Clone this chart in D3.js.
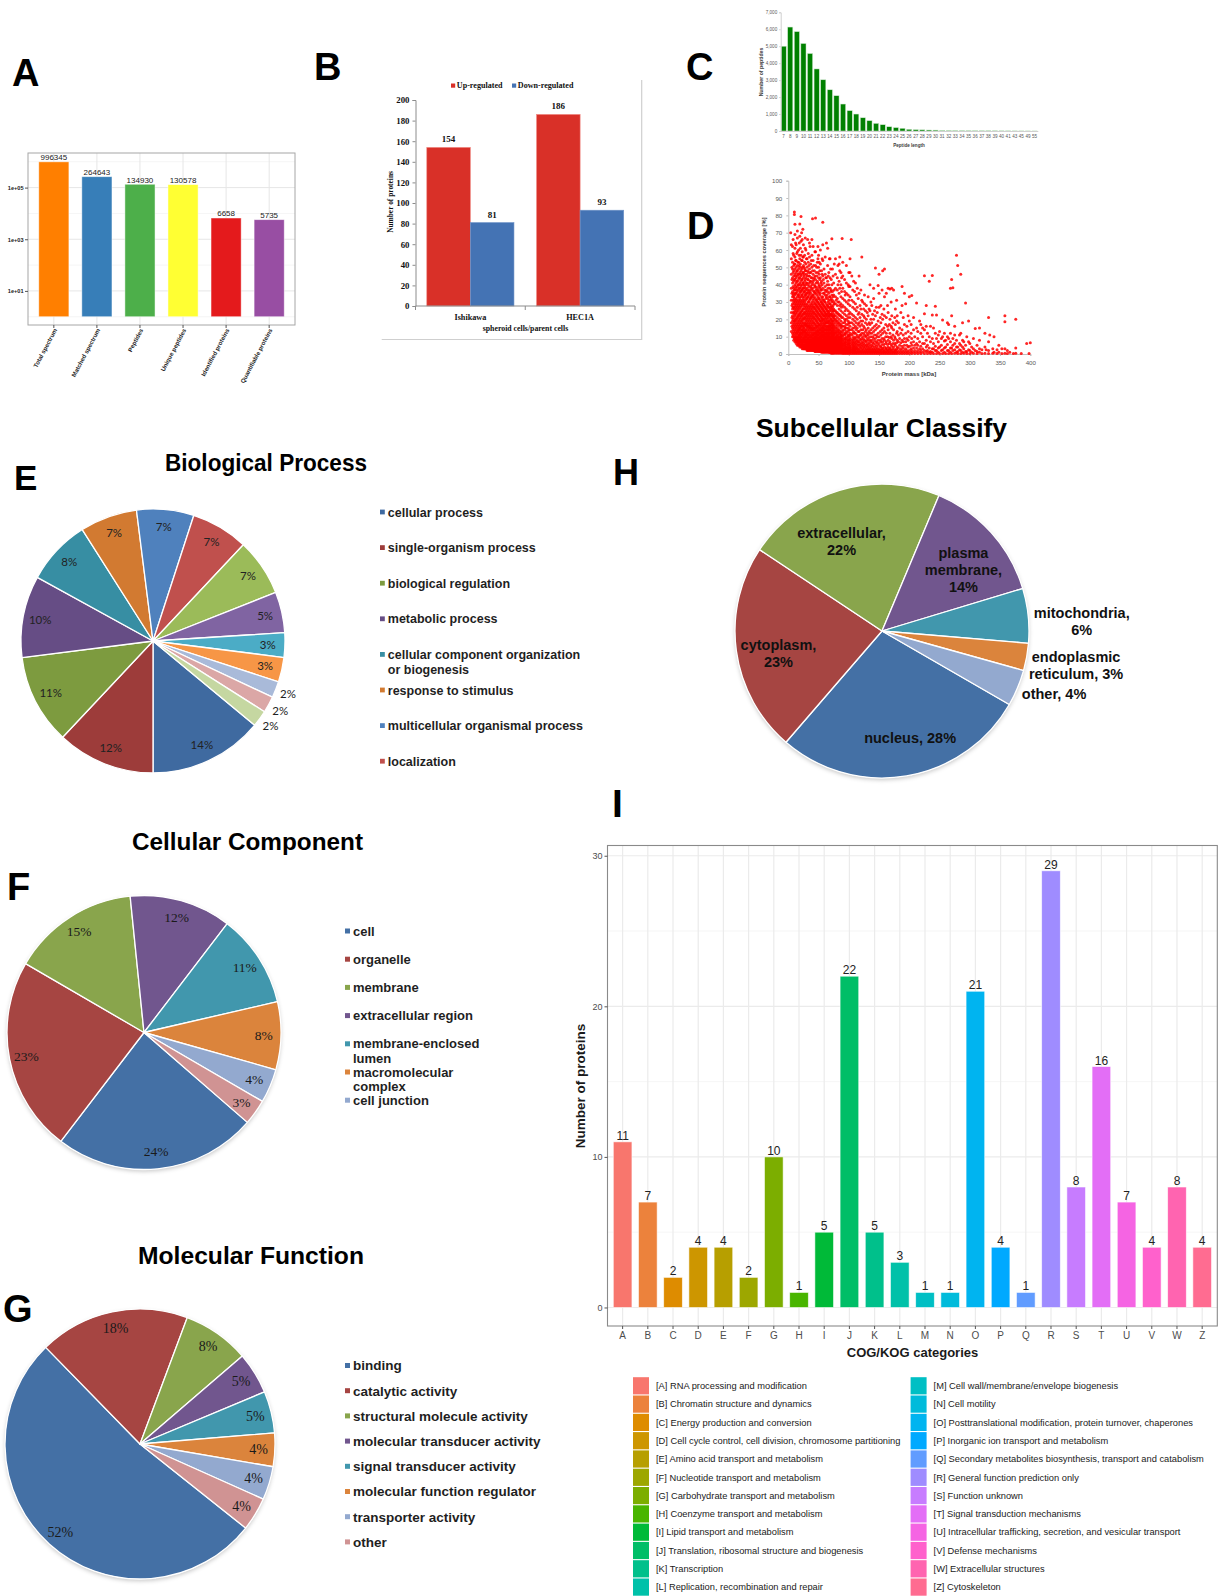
<!DOCTYPE html>
<html>
<head>
<meta charset="utf-8">
<title>Proteome figure</title>
<script src="https://cdn.jsdelivr.net/npm/d3@7"></script>
<style>
html,body{margin:0;padding:0;background:#fff;}
svg{display:block;}
</style>
</head>
<body>
<svg id="fig" width="1218" height="1596" viewBox="0 0 1218 1596"></svg>
<script>
// ================= DATA =================
// A: MS summary (log scale)
const spectrumCategories = ["Total spectrum","Matched spectrum","Peptides","Unique peptides","Identified proteins","Quantifiable proteins"];
const spectrumValues = [996345,264643,134930,130578,6658,5735];
const spectrumTicks = [10,1000,100000];
const spectrumTickLabels = ["1e+01","1e+03","1e+05"];

// B: regulated proteins
const regCells = ["Ishikawa","HEC1A"];
const regSeries = ["Up-regulated","Down-regulated"];
const upValues = [154,186];
const downValues = [81,93];
const regTicks = [0,20,40,60,80,100,120,140,160,180,200];

// C: peptide length distribution
const pepLengths = ["7","8","9","10","11","12","13","14","15","16","17","18","19","20","21","22","23","24","25","26","27","28","29","30","31","32","33","34","35","36","37","38","39","40","41","43","45","49","55"];
const pepCounts = [5000,6130,5860,5160,4570,3660,3020,2430,2080,1590,1200,1000,780,610,450,370,250,200,160,100,80,70,60,55,35,30,27,24,21,18,16,14,12,10,9,7,6,5,4];
const pepTicks = [0,1000,2000,3000,4000,5000,6000,7000];

// D: protein mass [kDa] : sequence coverage [%] values
const massTicks = [0,50,100,150,200,250,300,350,400];
const coverageTicks = [0,10,20,30,40,50,60,70,80,90,100];
const proteinMassCoverage = `
4:70
5:13,18,24,31,38,46,55,63
6:16,21,28,35,43,50
7:10,12,15,19,22,26,29,33,36,41,44,49,53,62
8:11,14,17,20,24,27,31,34,39,47,58,66
9:8,10,13,16,18,21,24,27,30,33,35,38,42,45,48,51,57
10:9,12,15,19,23,26,29,32,37,43,52,80.5,82
11:7,9,11,14,17,19,22,25,28,31,34,37,40,43,46,49,52,56,61,69,74.8
12:8,10,13,16,20,24,27,30,35,39,45,54,64
13:6,8,10,12,15,18,20,23,26,29,32,35,38,41,44,47,50,54,63
14:7,9,12,14,17,21,25,28,31,37,42,48,58
15:5,7,9,11,13,16,19,21,24,27,30,33,36,39,42,45,48,51,59,67,71
16:6,8,10,13,15,18,22,26,29,34,40,46,53
17:5,6,8,10,12,14,17,20,22,25,28,31,34,37,40,43,46,49,53,60
18:5,7,9,11,14,16,19,23,27,30,33,38,44,51,57,64
19:4,6,8,9,11,13,15,18,21,23,26,29,32,35,38,41,44,47,50,55,68,75
20:5,7,10,12,15,17,20,24,28,31,36,40,46,52,61
21:4,5,7,9,10,12,14,16,19,22,24,27,30,33,36,39,42,45,48,57,65,79.4
22:4,6,8,11,13,16,18,21,25,29,34,37,43,49,54,70
23:3,5,6,8,10,12,14,17,19,22,25,28,31,34,37,40,43,46,50,54,59,66
24:4,5,7,9,12,14,16,20,23,26,30,33,38,41,47,56,72
25:3,4,6,7,9,11,13,15,18,20,23,26,29,32,35,38,41,44,47,51,56,63
26:3,5,7,8,10,13,15,17,21,24,28,31,36,40,45,50
27:3,4,5,7,9,11,13,16,18,21,24,27,30,33,36,39,42,46,49,53,57
28:3,4,6,8,10,12,14,17,20,23,26,29,34,38,43,48,61,67
29:3,4,5,7,8,10,12,14,17,19,22,25,28,31,34,37,40,44,48,52,60
30:3,4,6,7,9,11,13,16,18,21,24,27,32,35,41,46,55
31:2,3,5,6,8,10,12,15,17,20,23,26,29,32,35,38,41,45,50,55
32:2.5,4,5,7,9,11,14,16,19,22,25,28,33,37,43,48,66
33:2,3,4,6,7,9,11,13,16,18,21,24,27,30,33,36,40,43,47,53,58
34:2.5,3.5,5,6.5,8,10,12,15,17,20,23,26,30,35,39,45,51
35:2,3,4,5,7,9,11,14,16,19,22,25,28,31,34,37,41,45,49,56,64
36:2.5,3.5,4.5,6,8,10,13,15,18,21,24,27,32,36,42,47,62
37:2,3,4,5,7,8,10,12,15,17,20,23,26,29,32,35,39,42,47,52
38:2.5,3.5,5,6,7.5,9,11,14,16,19,22,25,28,33,38,44,54
39:2,3,4,5,6,8,10,13,15,18,21,24,27,30,33,37,40,44,50,57,66
40:2.5,3.5,4.5,5.5,7,9,11,12,14,17,20,23,26,29,34,41,48,78
41:2,3,4,5,6,8,9,11,14,16,19,22,25,28,31,34,38,42,46,54,62
42:2,3,4.5,5.5,7,8.5,10,12,15,18,21,24,27,32,36,43,51
43:2,2.5,3.5,5,6,7,9,11,13,15,18,21,24,27,30,33,36,40,44,48
44:1.5,3,4,5.5,6.5,8,10,12,14,17,20,23,26,29,35,39,45,59
45:1.5,2.5,3.5,4.5,6,7,9,10,12,15,17,20,23,26,29,32,35,39,43,51,59,78.5
46:2,3,4,5,6.5,8,9.5,11,13,16,19,22,25,28,31,37,41,47
47:1.5,2.5,3.5,4.5,5.5,7,8,10,12,14,16,19,22,25,28,31,34,38,45,50
48:2,3,4,5,6,7.5,9,11,13,15,18,21,24,27,30,36,42,53
49:1.5,2.5,3,4,5,6,8,9,11,13,16,18,21,24,27,30,33,37,41,47,55,62
50:2,3,3.5,4.5,5.5,7,8.5,10,12,14,17,20,23,26,29,32,35,39,44,50,57
51:1.5,2,3,4,5,6,7,9,11,13,15,17,20,23,26,29,32,36,40,46,53
52:1.5,2.5,3.5,4.5,5.5,6.5,8,10,12,14,16,19,22,25,28,34,38,43,48
53:1.5,2,3,4,5,6,7,9,10,12,14,17,19,22,25,28,31,35,39,44,52,60
54:1.5,2.5,3.5,4.5,5.5,7,8.5,10,11,13,15,18,21,24,27,30,37,41
55:1,2,3,4,5,6,7,8,10,12,14,16,19,21,24,27,30,33,37,42,48
56:1.5,2.5,3.5,4.5,6,7.5,9,11,13,15,17,20,23,26,29,32,40,46,55
57:1,2,3,4,4.5,5.5,7,8,10,11,13,15,18,20,23,26,29,33,38,45,54,63,76
58:1.5,2.5,3.5,5,6,7,8.5,10,12,14,16,19,22,25,28,31,35,43
59:1,2,2.5,3.5,4.5,5.5,6.5,8,9,11,13,15,17,20,22,25,28,31,35,41,49
60:1.5,2,3,4,5,6,7.5,9,10,12,14,16,18,21,24,27,30,37
61:1,2,2.5,3.5,4.5,5.5,6.5,8,9,11,12,14,17,19,22,24,27,30,34,39,46,56
62:1.5,2,3,4,5,6,7,8.5,10,11.5,13,15,18,20,23,26,32,36,44
63:1,1.5,2.5,3.5,4,5,6,7,9,10,12,14,16,18,21,23,26,29,33,37,44,64
64:1.5,2,3,4.5,5.5,6.5,7.5,9,10.5,12,14,16,19,22,25,28,34,40
65:1,1.5,2.5,3,4,5,6,7,8,10,11,13,15,18,20,23,25,28,32,36,42,51,61
66:1.5,2,3,4,5,6,7,8.5,10,12,14,16,18,21,24,27,30,38,45
67:1,1.5,2,3,4,5,6,7,8,9,11,13,15,17,19,22,24,27,31,35,40,47
68:1,2,3,3.5,4.5,5.5,7,8,9.5,11,12,14,16,19,22,25,29,33,55
69:1,1.5,2,3,4,5,5.5,6.5,8,9,10,12,14,16,18,21,23,26,29,33,38,44,55
70:1,2,2.5,3.5,4.5,5.5,6.5,7.5,9,10,12,13,15,17,20,23,27,31,36,49
71:0.5,1.5,2,3,3.5,4.5,5.5,6.5,7.5,9,10,12,14,16,18,20,23,25,28,32,37,43
72:1,1.5,2.5,3,4,5,6,7,8.5,10,11,13,15,17,19,22,26,30,34,40,66.5
73:0.5,1,2,2.5,3.5,4.5,5,6,7,8,10,11,13,15,17,19,22,24,27,31,36,49
74:1,1.5,2,3,4,5,6,7,8,9,10.5,12,14,16,18,21,25,28,33,45
75:0.5,1,2,2.5,3.5,4,5,6,7,8,9,11,12,14,16,19,21,23,26,30,34,41
76:1,1.5,2,3,4,4.5,5.5,6.5,7.5,9,10,11.5,13,15,17,20,22,25,29,37,52
78:0.5,1,1.5,2.5,3,4,5,6,7,8,9,10,12,13,15,18,20,22,25,29,33,38,46,55
79:1,2,3,3.5,4.5,5.5,6.5,8,9,10.5,12,14,16,19,24,31
81:0.5,1,1.5,2,3,3.5,4.5,5.5,6.5,7.5,9,10,11,13,15,17,19,21,24,28,32,37,44
82:1,1.5,2.5,3,4,5,6,7,8,9.5,11,12.5,14,18,23,30,40,51
84:0.5,1,1.5,2,2.5,3.5,4,5,6,7,8,9,10,12,14,16,18,20,23,26,30,35,42,52
85:1,2,3,4,4.5,5.5,6.5,7.5,9,10,11.5,13,17,22,28,38,48,56
87:0.5,1,1.5,2,2.5,3,4,5,6,7,7.5,9,10,11,13,15,17,19,22,25,29,33,40,47
88:1,2,3,3.5,4.5,5.5,6.5,8,9,10.5,12,16,21,27,36,44
89:66.7
90:0.3,0.8,1.5,2,2.5,3,4,5,5.5,6.5,7.5,8.5,10,11,13,14,16,18,21,24,28,32,38,45,53
93:0.3,0.8,1.3,2,2.5,3,3.5,4.5,5.5,6,7,8,9,11,12,14,16,18,20,23,27,31,36,43
94:1,2.5,4.5,6.5,9,11.5,15,19,25,34
96:0.3,0.8,1.3,1.8,2.5,3,3.5,4,5,6,7,8,9,10,12,13,15,17,20,22,26,30,35,41,51
99:0.3,0.8,1.3,1.8,2.3,3,3.5,4,5,5.5,6.5,7.5,8.5,10,11,13,15,17,19,21,25,29,34,40
100:1.5,3.5,6,8,10.5,14,18,23,31,39,47
102:0.3,0.8,1.3,1.8,2.3,2.8,3.5,4,4.5,5.5,6.5,7.5,8.5,9.5,11,12,14,16,18,21,24,28,33,39,47,55
104:66
105:0.3,1.3,2.3,3.3,5,6.5,8,11,14,18,23,31,45
106.5:0.8,1.8,2.8,4,5.5,7,9,12,15,20,27,37
108:0.3,1.3,2.3,3.3,4.5,6,8,10,13,17,22,30,42
109.5:0.8,1.8,2.8,4,5.5,7,9,12,15,19,26,36
111:0.3,1.5,3,4.5,6.5,9,12,16,21,29,41
112.5:0.8,2,3.5,5.5,7.5,10,14,18,25,34
114:0.3,1.5,3,4,6,8,11,15,20,27,38
115.5:1,2.5,5,7,9.5,13,17,23,32
117:0.3,1.5,3,5,7,10,13,18,24,35,45
118.5:1,2,4,6,8.5,11,16,21,28
120:0.3,1.5,3.5,5.5,8,11,14,19,26,37
121.5:1,2.5,4.5,6.5,9,12,17,23,31,56
123:0.3,1.5,3,5,7,10,14,19,30
124.5:1,2,4,6,8.5,12,16,22,26
126:0.3,1.5,3.5,5.5,8,11,15,21,29,34
127.5:1,2.5,4.5,7,10,13,18,25
129:0.3,1.5,3,5,7.5,10.5,14,20,28
130.5:1,2,4,6,9,12,17,24
132:0.3,1.5,3,5,8,11,15,22,33
133.5:1,2.5,4,6.5,9.5,13,18,26
135:0.3,1.5,3,5.5,8,12,17,25,40
136.5:1,2,4,7,10,14,20,30
138:0.3,1.5,3,5,8,12,18,28
139.5:1,2.5,4.5,6.5,10,15,23
141:0.3,1.5,3,6,9,13,20,32,38
142.5:1,2,4,7.5,11,16,25
144:0.3,1.5,3,5.5,9,14,22,49.6
145.5:1,2.5,4.5,7,11,17,27
147:0.3,1.5,3.5,6.5,10,15,24
148.5:1,2.5,5,8,12,19,39.5
150:0.3,1.5,3,6,10,16,27,35,46
152:1,2.5,4.5,8,13,21
153:0.3,2,4,7,11,18,28
155:1,3,5.5,9,14,23,37
156:0.3,2,3.5,7,12,20,48
158:1,2.5,5.5,9,15,26
159:0.3,1.5,4,8,13,22,33,49
161:1,3,6,10,17
162:0.3,2,3.5,7,12,21,35
164:1,2.5,5.5,10,16,28
165:0.3,2,4,8,14,24,38
167:1,3,6,9.5,17
168:0.3,2,3.5,7,12,20,37.5
170:1,2.5,5.5,10,16,30
171:0.3,2,4.5,9,15,22,38
173:1,3,6,11,18
174:0.3,1.5,4,8,14,37
176:1,2.5,6,10,21
177:0.3,2,5,9,17,26
179:1,3,6.5,12,19,31
180:0.3,2,4,8,13,22
182:1,3.5,7,11,18
184:0.3,2,5,9,15
186:1,3,6.5,12,24
188:0.3,2,4.5,8,14,28,39
190:1,3.5,7,11,21
192:0.3,2,5,9,17,35
194:1,3,7,12,29
196:0.3,2,5,9,16
198:1,4,8,13,22
200:0.3,2,4.5,10,19,33
203:1,3,6.5,12,17
204:0.3,2,5,9,33.7
207:1,3.5,7,14,21
209:0.3,2,5,10
212:1,3.5,6,15,29.5
214:0.3,2,5,9,13
217:1,3,7,19
219:0.3,2,4.5,12,17
222:1,3,6,10,15
225:0.3,2,6,14,23.2,45.2
228:1.5,4,8,16,28
230:0.3,2,5,12
233:1,3.5,10,42
235:0.3,1.5,7,16
238:1,3,9,22.5,45.3
240:0.3,3,6,15
243:2,4.5,12,27.5
245:0.3,2,9,22.5
248:1,3.5,7,11
250:0.3,4,13
253:2,5,9
255:0.3,2.5,10,19.6
258:1,3.5,7.5,12
260:0.3,4,8
263:2,5.5,10,18
265:0.3,2,9,17
268:1,3.5,7,12,38
270:0.3,3.5,22,43
272:2,5,9,38.3
275:0.5,2.5,6,11,16
278:1,4,8,57
280:0.3,1.5,4,51
283:2.5,6,11
285:0.3,2,5,12,46
288:1,4,8,18
290:0.5,3,7
293:1.5,5,29.5
295:0.3,1.5,10
298:2.5,7,19
300:0.3,2,6
303:1,4
306:0.5,3,9
309:2,14.7
312:0.3,1.5,5
316:1,3,8,15
320:0.3,2.5
325:0.5,4,12
327:2.5
331:0.3,2,7,21
333:11
338:0.5,3
340:1,10
345:0.3,2.5
348:1,5
353:0.3,3
358:0.5,3,18.6,22
362:0.3,2
366:1
372:0.3
376:0.5,3.5,20
385:0.3
394:6
398:0.3
400:6.5
`;

// E: Biological Process (%)
const bpShares = [14,12,11,10,8,7,7,7,7,5,3,3,2,2,2];
const bpNames = ["cellular process","single-organism process","biological regulation","metabolic process","cellular component organization or biogenesis","response to stimulus","multicellular organismal process","localization"];

// F: Cellular Component (%)
const ccShares = [24,23,15,12,11,8,4,3];
const ccNames = ["cell","organelle","membrane","extracellular region","membrane-enclosed lumen","macromolecular complex","cell junction"];

// G: Molecular Function (%)
const mfShares = [52,18,8,5,5,4,4,4];
const mfNames = ["binding","catalytic activity","structural molecule activity","molecular transducer activity","signal transducer activity","molecular function regulator","transporter activity","other"];

// H: Subcellular localisation (%)
const scNames = ["nucleus","cytoplasm","extracellular","plasma membrane","mitochondria","endoplasmic reticulum","other"];
const scShares = [28,23,22,14,6,3,4];

// I: COG/KOG
const cogCodes = ["A","B","C","D","E","F","G","H","I","J","K","L","M","N","O","P","Q","R","S","T","U","V","W","Z"];
const cogCounts = [11,7,2,4,4,2,10,1,5,22,5,3,1,1,21,4,1,29,8,16,7,4,8,4];
const cogTicks = [0,10,20,30];
const cogDescriptions = ["RNA processing and modification","Chromatin structure and dynamics","Energy production and conversion","Cell cycle control, cell division, chromosome partitioning","Amino acid transport and metabolism","Nucleotide transport and metabolism","Carbohydrate transport and metabolism","Coenzyme transport and metabolism","Lipid transport and metabolism","Translation, ribosomal structure and biogenesis","Transcription","Replication, recombination and repair","Cell wall/membrane/envelope biogenesis","Cell motility","Posttranslational modification, protein turnover, chaperones","Inorganic ion transport and metabolism","Secondary metabolites biosynthesis, transport and catabolism","General function prediction only","Function unknown","Signal transduction mechanisms","Intracellular trafficking, secretion, and vesicular transport","Defense mechanisms","Extracellular structures","Cytoskeleton"];
const cogColors = ["#F8766D","#EC823C","#DE8C00","#CD9600","#B79F00","#9DA700","#7CAE00","#49B500","#00BA38","#00BE67","#00C08B","#00C1A9","#00BFC4","#00BBDB","#00B4F0","#00A9FF","#619CFF","#9F8CFF","#C77CFF","#E36EF6","#F564E3","#FF61CC","#FF64B0","#FF6C91"];

// ================= DRAWING =================
const SANS = "'Liberation Sans', Arial, Helvetica, sans-serif";
const SERIF = "'Liberation Serif', 'Times New Roman', serif";
const svg = d3.select("#fig");
svg.append("rect").attr("width",1218).attr("height",1596).attr("fill","#fff");
const defs = svg.append("defs");
defs.append("filter").attr("id","pieShadow").attr("x","-10%").attr("y","-10%").attr("width","120%").attr("height","125%")
  .append("feDropShadow").attr("dx",0).attr("dy",2).attr("stdDeviation",2).attr("flood-color","#000").attr("flood-opacity",0.22);

function styleAxis(sel, font, size, color, lineColor, weight){
  sel.attr("font-family", font).attr("font-size", size);
  sel.selectAll("text").attr("fill", color).attr("font-weight", weight || "normal");
  sel.selectAll("line,path").attr("stroke", lineColor);
}
function letter(t, x, y, size){
  svg.append("text").attr("x",x).attr("y",y).attr("font-family",SANS).attr("font-weight","bold")
    .attr("font-size",size||38).attr("fill","#000").text(t);
}

// ---------- Panel letters ----------
letter("A",12,86); letter("B",314,80); letter("C",686,80); letter("D",687,239);
letter("E",14,490,35); letter("H",613,485,36); letter("F",7,900); letter("G",3,1322); letter("I",612,817,39);

// ---------- Panel A ----------
(function(){
  const L=28,R=295,T=153,B=325;
  const g = svg.append("g");
  const x = d3.scaleBand().domain(spectrumCategories).range([L,R]).paddingInner(0.3).paddingOuter(0.25);
  const y = d3.scaleLog().domain([Math.pow(10,-0.32), Math.pow(10,6.34)]).range([B,T]);
  g.append("rect").attr("x",L).attr("y",T).attr("width",R-L).attr("height",B-T).attr("fill","#fff");
  g.selectAll(".mn").data([1,100,10000,1000000]).join("line").attr("x1",L).attr("x2",R)
    .attr("y1",d=>y(d)).attr("y2",d=>y(d)).attr("stroke","#F3F3F3").attr("stroke-width",0.8);
  g.selectAll(".mj").data(spectrumTicks).join("line").attr("x1",L).attr("x2",R)
    .attr("y1",d=>y(d)).attr("y2",d=>y(d)).attr("stroke","#E6E6E6").attr("stroke-width",1);
  g.selectAll(".vg").data(spectrumCategories).join("line").attr("y1",T).attr("y2",B)
    .attr("x1",d=>x(d)+x.bandwidth()/2).attr("x2",d=>x(d)+x.bandwidth()/2).attr("stroke","#E6E6E6");
  const colA = ["#FF7F00","#377EB8","#4DAF4A","#FFFF33","#E41A1C","#984EA3"];
  g.selectAll(".bar").data(spectrumValues).join("rect")
    .attr("x",(d,i)=>x(spectrumCategories[i])).attr("width",x.bandwidth())
    .attr("y",d=>y(d)).attr("height",d=>y(1)-y(d))
    .attr("fill",(d,i)=>colA[i]).attr("stroke","#ffffff").attr("stroke-opacity",0.6).attr("stroke-width",0.8);
  g.selectAll(".vl").data(spectrumValues).join("text")
    .attr("x",(d,i)=>x(spectrumCategories[i])+x.bandwidth()/2).attr("y",d=>y(d)-1.5)
    .attr("text-anchor","middle").attr("font-family",SANS).attr("font-size",8).attr("fill","#222").text(d=>d);
  g.append("rect").attr("x",L).attr("y",T).attr("width",R-L).attr("height",B-T).attr("fill","none").attr("stroke","#A6A6A6").attr("stroke-width",1);
  const ya = g.append("g").attr("transform",`translate(${L},0)`)
    .call(d3.axisLeft(y).tickValues(spectrumTicks).tickFormat((d,i)=>spectrumTickLabels[i]).tickSize(3).tickPadding(1.5));
  ya.select(".domain").remove();
  styleAxis(ya, SANS, 5.6, "#1a1a1a", "#555", "bold");
  const xa = g.append("g").attr("transform",`translate(0,${B})`).call(d3.axisBottom(x).tickSize(3).tickFormat(""));
  xa.select(".domain").remove();
  styleAxis(xa, SANS, 6, "#333", "#555");
  g.selectAll(".xl").data(spectrumCategories).join("text")
    .attr("transform",d=>`translate(${x(d)+x.bandwidth()/2+1.5},${B+4}) rotate(-62)`)
    .attr("text-anchor","end").attr("dy","0.35em").attr("font-family",SANS).attr("font-weight","bold")
    .attr("font-size",6.1).attr("fill","#222").text(d=>d);
})();

// ---------- Panel B ----------
(function(){
  const g = svg.append("g");
  g.append("path").attr("d","M641.7,80V339.5H381.7").attr("fill","none").attr("stroke","#CFCFCF").attr("stroke-width",1.2);
  const x0 = d3.scaleBand().domain(regCells).range([415.5,635]);
  const x1 = d3.scaleBand().domain(regSeries).range([0,x0.bandwidth()]).paddingOuter(0.259);
  const y = d3.scaleLinear().domain([0,200]).range([306,100]);
  const regColors = ["#D93028","#4473B4"];
  const series = [upValues, downValues];
  regSeries.forEach((s,si)=>{
    g.selectAll(".b"+si).data(series[si]).join("rect")
      .attr("x",(d,ci)=>x0(regCells[ci])+x1(s)).attr("width",x1.bandwidth())
      .attr("y",d=>y(d)).attr("height",d=>y(0)-y(d)).attr("fill",regColors[si])
      .attr("stroke", si===0 ? "#F08A84" : "#6F93C8").attr("stroke-width",0.6);
    g.selectAll(".v"+si).data(series[si]).join("text")
      .attr("x",(d,ci)=>x0(regCells[ci])+x1(s)+x1.bandwidth()/2).attr("y",d=>y(d)-5)
      .attr("text-anchor","middle").attr("font-family",SERIF).attr("font-weight","bold").attr("font-size",9).attr("fill","#111").text(d=>d);
  });
  const ya = g.append("g").attr("transform","translate(415.5,0)").call(d3.axisLeft(y).tickValues(regTicks).tickSize(3).tickPadding(3));
  styleAxis(ya, SERIF, 8.8, "#111", "#8C8C8C", "bold");
  const xa = g.append("g").attr("transform","translate(0,306)").call(d3.axisBottom(x0).tickSize(0).tickPadding(8));
  styleAxis(xa, SERIF, 8.2, "#111", "#8C8C8C", "bold");
  xa.select(".domain").attr("d","M415.5,0H635");
  g.selectAll(".bt").data(regCells.concat(["end"])).join("line")
    .attr("x1",(d,i)=> i<regCells.length ? x0(d) : 635).attr("x2",(d,i)=> i<regCells.length ? x0(d) : 635)
    .attr("y1",306).attr("y2",310).attr("stroke","#8C8C8C");
  g.append("text").attr("x",525.5).attr("y",330.5).attr("text-anchor","middle").attr("font-family",SERIF).attr("font-weight","bold")
    .attr("font-size",7.8).attr("fill","#111").text("spheroid cells/parent cells");
  g.append("text").attr("transform","translate(392.5,202) rotate(-90)").attr("text-anchor","middle").attr("font-family",SERIF)
    .attr("font-weight","bold").attr("font-size",7.4).attr("fill","#111").text("Number of proteins");
  const lx = [451,512];
  regSeries.forEach((s,i)=>{
    g.append("rect").attr("x",lx[i]).attr("y",83.5).attr("width",4.2).attr("height",4.2).attr("fill",regColors[i]);
    g.append("text").attr("x",lx[i]+5.8).attr("y",88.3).attr("font-family",SERIF).attr("font-weight","bold").attr("font-size",8.1).attr("fill","#111").text(s);
  });
})();

// ---------- Panel C ----------
(function(){
  const g = svg.append("g");
  const x = d3.scaleBand().domain(pepLengths).range([780.4,1037.8]).paddingInner(0.22).paddingOuter(0.1);
  const y = d3.scaleLinear().domain([0,7000]).range([131,12.3]);
  g.selectAll("rect").data(pepCounts).join("rect")
    .attr("x",(d,i)=>x(pepLengths[i])).attr("width",x.bandwidth())
    .attr("y",d=>y(d)).attr("height",d=>y(0)-y(d)).attr("fill","#008000").attr("stroke","#CFE8CF").attr("stroke-width",0.5);
  const ya = g.append("g").attr("transform","translate(780.7,0)").call(d3.axisLeft(y).tickValues(pepTicks).tickSize(1.5).tickPadding(2));
  styleAxis(ya, SANS, 4.6, "#595959", "#D0D0D0");
  const xa = g.append("g").attr("transform","translate(0,131)").call(d3.axisBottom(x).tickSize(0).tickPadding(4));
  styleAxis(xa, SANS, 4.6, "#595959", "#D0D0D0");
  g.append("text").attr("x",909).attr("y",147).attr("text-anchor","middle").attr("font-family",SANS).attr("font-weight","bold")
    .attr("font-size",4.6).attr("fill","#404040").text("Peptide length");
  g.append("text").attr("transform","translate(763,72) rotate(-90)").attr("text-anchor","middle").attr("font-family",SANS)
    .attr("font-weight","bold").attr("font-size",5.2).attr("fill","#404040").text("Number of peptides");
})();

// ---------- Panel D ----------
(function(){
  const g = svg.append("g");
  const x = d3.scaleLinear().domain([0,400]).range([788.3,1030.3]);
  const y = d3.scaleLinear().domain([0,100]).range([354,180.7]);
  const pts = proteinMassCoverage.trim().split(/\s+/).flatMap(s=>{
    const [m,cs] = s.split(":"); return cs.split(",").map(c=>[+m,+c]);
  });
  const ya = g.append("g").attr("transform","translate(788.3,0)").call(d3.axisLeft(y).tickValues(coverageTicks).tickSize(2).tickPadding(4));
  styleAxis(ya, SANS, 6.2, "#595959", "#BFBFBF");
  const xa = g.append("g").attr("transform","translate(0,354)").call(d3.axisBottom(x).tickValues(massTicks).tickSize(2).tickPadding(5));
  styleAxis(xa, SANS, 6.2, "#595959", "#BFBFBF");
  g.selectAll("circle").data(pts).join("circle")
    .attr("cx",d=>x(d[0])).attr("cy",d=>y(d[1])).attr("r",1.5)
    .attr("fill","#FF0000").attr("fill-opacity",0.85);
  g.append("text").attr("x",909).attr("y",375.5).attr("text-anchor","middle").attr("font-family",SANS).attr("font-weight","bold")
    .attr("font-size",6).attr("fill","#404040").text("Protein mass [kDa]");
  g.append("text").attr("transform","translate(766,262) rotate(-90)").attr("text-anchor","middle").attr("font-family",SANS)
    .attr("font-weight","bold").attr("font-size",5.8).attr("fill","#404040").text("Protein sequences coverage [%]");
})();

// ---------- pie helper ----------
function drawPie(cx, cy, r, values, colors, startDeg, shadow){
  const s = startDeg*Math.PI/180;
  const arcs = d3.pie().sort(null).value(d=>d).startAngle(s).endAngle(s+2*Math.PI)(values);
  const g = svg.append("g").attr("transform",`translate(${cx},${cy})`);
  if (shadow) g.append("circle").attr("r",r).attr("fill","#fff").attr("filter","url(#pieShadow)");
  g.selectAll("path").data(arcs).join("path").attr("d",d3.arc().innerRadius(0).outerRadius(r))
    .attr("fill",(d,i)=>colors[i]).attr("stroke","#fff").attr("stroke-width",1.3).attr("stroke-linejoin","round");
  return {g, arcs};
}
function title(t, cx, y, size, width){
  svg.append("text").attr("x",cx).attr("y",y).attr("text-anchor","middle").attr("font-family",SANS).attr("font-weight","bold")
    .attr("font-size",size).attr("fill","#000").attr("textLength",width).attr("lengthAdjust","spacingAndGlyphs").text(t);
}
function legend(names, x, y0, step, size, colors, breaks, lineGap, sq){
  names.forEach((n,i)=>{
    const y = y0 + i*step;
    svg.append("rect").attr("x",x).attr("y",y-sq/2).attr("width",sq).attr("height",sq).attr("fill",colors[i]);
    const lines = breaks[n] || [n];
    lines.forEach((ln,j)=>{
      svg.append("text").attr("x",x+sq+3).attr("y",y+j*lineGap).attr("dy","0.36em").attr("font-family",SANS)
        .attr("font-weight","bold").attr("font-size",size).attr("fill","#1f1f1f").text(ln);
    });
  });
}

// ---------- Panel E ----------
(function(){
  title("Biological Process", 266, 471, 24, 202);
  const colE = ["#3F6AA0","#9D3C3A","#7D9B3F","#664D85","#378EA3","#D27A31","#4F81BD","#C0504D","#9BBB59","#8064A2","#4BACC6","#F79646","#A9BAD9","#DBA7A6","#C5D7A1"];
  const r = 132;
  const {g, arcs} = drawPie(153, 641, r, bpShares, colE, 129.6, false);
  arcs.forEach((a,i)=>{
    const k = bpShares[i] <= 2 ? 1.1 : 0.87;
    const c = d3.arc().innerRadius(k*r).outerRadius(k*r).centroid(a);
    g.append("text").attr("x",c[0]).attr("y",c[1]).attr("dy","0.35em").attr("text-anchor","middle")
      .attr("font-family","Lato, 'Open Sans', sans-serif").attr("font-size",11.5).attr("fill","#222").text(bpShares[i]+"%");
  });
  legend(bpNames, 380, 512, 35.6, 12.5, colE, {"cellular component organization or biogenesis":["cellular component organization","or biogenesis"]}, 15.2, 4.8);
})();

// ---------- Panel F ----------
const colStd = ["#4470A5","#A64542","#89A54C","#71568E","#4197AD","#DB843C","#93A9CF","#D09393"];
(function(){
  title("Cellular Component", 247.5, 850, 24, 231);
  const r = 137;
  const {g, arcs} = drawPie(144, 1032.5, r, ccShares, colStd, 131, true);
  arcs.forEach((a,i)=>{
    const c = d3.arc().innerRadius(0.875*r).outerRadius(0.875*r).centroid(a);
    g.append("text").attr("x",c[0]).attr("y",c[1]).attr("dy","0.35em").attr("text-anchor","middle")
      .attr("font-family",SERIF).attr("font-size",13.5).attr("fill","#1a1a1a").text(ccShares[i]+"%");
  });
  legend(ccNames, 345, 931, 28.2, 13, colStd, {"membrane-enclosed lumen":["membrane-enclosed","lumen"],"macromolecular complex":["macromolecular","complex"]}, 14.5, 5);
})();

// ---------- Panel G ----------
(function(){
  title("Molecular Function", 251, 1264, 24, 226);
  const r = 135;
  const {g, arcs} = drawPie(140, 1444, r, mfShares, colStd, 128.5, true);
  arcs.forEach((a,i)=>{
    const c = d3.arc().innerRadius(0.88*r).outerRadius(0.88*r).centroid(a);
    g.append("text").attr("x",c[0]).attr("y",c[1]).attr("dy","0.35em").attr("text-anchor","middle")
      .attr("font-family",SERIF).attr("font-size",14).attr("fill","#1a1a1a").text(mfShares[i]+"%");
  });
  legend(mfNames, 345, 1365.5, 25.2, 13.5, colStd, {}, 14, 5);
})();

// ---------- Panel H ----------
(function(){
  title("Subcellular Classify", 881.5, 436.5, 25, 251);
  const colH = ["#4470A5","#A64542","#89A54C","#71568E","#4197AD","#DB843C","#93A9CF"];
  const r = 147, cx = 882, cy = 631;
  drawPie(cx, cy, r, scShares, colH, 120, true);
  // label layout: [angle deg, radius px] and words per line
  const labelPolar = [[165.2,110],[257.6,106],[335.6,98],[53,102],[87.3,200],[99.9,197],[109.9,183]];
  const wordsPerLine = [[2],[1,1],[1,1],[1,1,1],[1,1],[1,2],[2]];
  scNames.forEach((n,i)=>{
    const words = (n + ", " + scShares[i] + "%").split(" ");
    const lines = []; let k = 0;
    wordsPerLine[i].forEach(c=>{ lines.push(words.slice(k,k+c).join(" ")); k += c; });
    const a = labelPolar[i][0]*Math.PI/180, rr = labelPolar[i][1];
    const lx = cx + rr*Math.sin(a), ly = cy - rr*Math.cos(a);
    lines.forEach((ln,j)=>{
      svg.append("text").attr("x",lx).attr("y",ly + (j-(lines.length-1)/2)*17).attr("dy","0.36em")
        .attr("text-anchor","middle").attr("font-family",SANS).attr("font-weight","bold").attr("font-size",14.5).attr("fill","#111").text(ln);
    });
  });
})();

// ---------- Panel I ----------
(function(){
  const L=607.5, R=1217.3, T=845.5, B=1326;
  const g = svg.append("g");
  const x = d3.scaleBand().domain(cogCodes).range([L,R]).paddingInner(0.26).paddingOuter(0.23);
  const y = d3.scaleLinear().domain([-1.23,30.68]).range([B,T]);
  g.append("rect").attr("x",L).attr("y",T).attr("width",R-L).attr("height",B-T).attr("fill","#fff");
  g.selectAll(".mn").data([5,15,25]).join("line").attr("x1",L).attr("x2",R).attr("y1",d=>y(d)).attr("y2",d=>y(d))
    .attr("stroke","#F4F4F4").attr("stroke-width",0.8);
  g.selectAll(".mj").data(cogTicks).join("line").attr("x1",L).attr("x2",R).attr("y1",d=>y(d)).attr("y2",d=>y(d))
    .attr("stroke","#EBEBEB").attr("stroke-width",1.2);
  g.selectAll(".vg").data(cogCodes).join("line").attr("y1",T).attr("y2",B)
    .attr("x1",d=>x(d)+x.bandwidth()/2).attr("x2",d=>x(d)+x.bandwidth()/2).attr("stroke","#EBEBEB").attr("stroke-width",1.2);
  g.selectAll(".bar").data(cogCounts).join("rect")
    .attr("x",(d,i)=>x(cogCodes[i])).attr("width",x.bandwidth())
    .attr("y",d=>y(d)).attr("height",d=>y(0)-y(d)).attr("fill",(d,i)=>cogColors[i])
    .attr("stroke","#fff").attr("stroke-opacity",0.7).attr("stroke-width",0.8);
  g.selectAll(".vl").data(cogCounts).join("text")
    .attr("x",(d,i)=>x(cogCodes[i])+x.bandwidth()/2).attr("y",d=>y(d)-2)
    .attr("text-anchor","middle").attr("font-family",SANS).attr("font-size",12).attr("fill","#222").text(d=>d);
  g.append("rect").attr("x",L).attr("y",T).attr("width",R-L).attr("height",B-T).attr("fill","none").attr("stroke","#8A8A8A").attr("stroke-width",1.1);
  const ya = g.append("g").attr("transform",`translate(${L},0)`).call(d3.axisLeft(y).tickValues(cogTicks).tickSize(3).tickPadding(2));
  ya.select(".domain").remove();
  styleAxis(ya, SANS, 9, "#4D4D4D", "#555");
  const xa = g.append("g").attr("transform",`translate(0,${B})`).call(d3.axisBottom(x).tickSize(3).tickPadding(3));
  xa.select(".domain").remove();
  styleAxis(xa, SANS, 10, "#4D4D4D", "#555");
  g.append("text").attr("x",912.5).attr("y",1356.5).attr("text-anchor","middle").attr("font-family",SANS).attr("font-weight","bold")
    .attr("font-size",13).attr("fill","#1a1a1a").text("COG/KOG categories");
  g.append("text").attr("transform","translate(585,1086) rotate(-90)").attr("text-anchor","middle").attr("font-family",SANS)
    .attr("font-weight","bold").attr("font-size",13.5).attr("fill","#1a1a1a").text("Number of proteins");
  // legend (two columns)
  const colX = [633, 910.6];
  cogCodes.forEach((c,i)=>{
    const col = i < 12 ? 0 : 1, row = i % 12;
    const yc = 1385.8 + row*18.3;
    g.append("rect").attr("x",colX[col]).attr("y",yc-8.6).attr("width",16).attr("height",17.2).attr("fill",cogColors[i]);
    g.append("text").attr("x",colX[col]+23).attr("y",yc).attr("dy","0.35em").attr("font-family",SANS)
      .attr("font-size",9.3).attr("fill","#1a1a1a").text(`[${c}] ${cogDescriptions[i]}`);
  });
})();
</script>
</body>
</html>
